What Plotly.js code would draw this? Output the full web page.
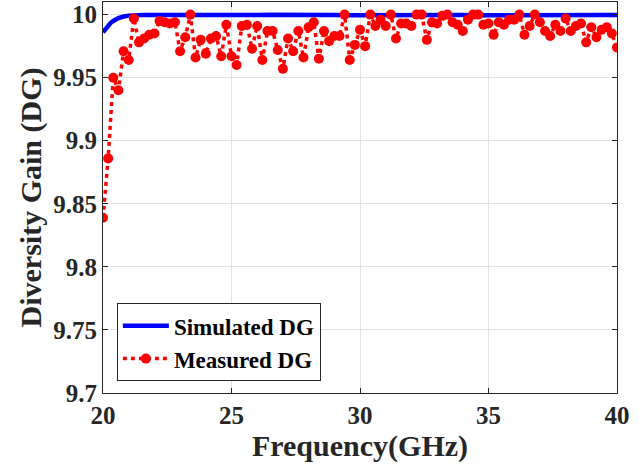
<!DOCTYPE html>
<html>
<head>
<meta charset="utf-8">
<script src="https://cdn.plot.ly/plotly-3.0.1.min.js"></script>
<style>html,body{margin:0;padding:0;background:#fff}#chart{width:639px;height:473px}</style>
</head>
<body>
<div id="chart"></div>
<script>
// Simulated DG
const simFreq = [20.0, 20.1, 20.2, 20.3, 20.4, 20.5, 20.6, 20.8, 21.0, 21.5, 22.0, 22.5, 23.0, 23.5, 24.0, 24.5, 25.0, 25.5, 26.0, 26.5, 27.0, 27.5, 28.0, 28.5, 29.0, 29.5, 30.0, 30.5, 31.0, 31.5, 32.0, 32.5, 33.0, 33.5, 34.0, 34.5, 35.0, 35.5, 36.0, 36.5, 37.0, 37.5, 38.0, 38.5, 39.0, 39.5, 40.0];
const simDG = [9.986, 9.989, 9.9915, 9.9935, 9.995, 9.9962, 9.9972, 9.9985, 9.9992, 9.9996, 9.9995, 9.9997, 9.9996, 9.9998, 9.9995, 9.9996, 9.9997, 9.9995, 9.9996, 9.9998, 9.9996, 9.9995, 9.9996, 9.9997, 9.9996, 9.9995, 9.9996, 9.9997, 9.9996, 9.9995, 9.9997, 9.9996, 9.9995, 9.9996, 9.9997, 9.9995, 9.9996, 9.9996, 9.9997, 9.9995, 9.9996, 9.9996, 9.9997, 9.9995, 9.9996, 9.9996, 9.9996];

// Measured DG (0.2 GHz step, 20-40 GHz)
const measFreq = [20.0,20.2,20.4,20.6,20.8,21.0,21.2,21.4,21.6,21.8,22.0,22.2,22.4,22.6,22.8,23.0,23.2,23.4,23.6,23.8,24.0,24.2,24.4,24.6,24.8,25.0,25.2,25.4,25.6,25.8,26.0,26.2,26.4,26.6,26.8,27.0,27.2,27.4,27.6,27.8,28.0,28.2,28.4,28.6,28.8,29.0,29.2,29.4,29.6,29.8,30.0,30.2,30.4,30.6,30.8,31.0,31.2,31.4,31.6,31.8,32.0,32.2,32.4,32.6,32.8,33.0,33.2,33.4,33.6,33.8,34.0,34.2,34.4,34.6,34.8,35.0,35.2,35.4,35.6,35.8,36.0,36.2,36.4,36.6,36.8,37.0,37.2,37.4,37.6,37.8,38.0,38.2,38.4,38.6,38.8,39.0,39.2,39.4,39.6,39.8,40.0];
const measDG = [9.839, 9.886, 9.950, 9.940, 9.971, 9.964, 9.997, 9.978, 9.981, 9.984,
  9.985, 9.995, 9.994, 9.993, 9.994, 9.971, 9.982, 10.000, 9.966, 9.980,
  9.969, 9.981, 9.983, 9.967, 9.992, 9.967, 9.960, 9.991, 9.992, 9.973,
  9.991, 9.964, 9.987, 9.987, 9.972, 9.957, 9.981, 9.971, 9.987, 9.966,
  9.990, 9.994, 9.965, 9.987, 9.979, 9.983, 9.983, 10.000, 9.964, 9.976,
  9.988, 9.975, 10.000, 9.991, 9.996, 9.991, 10.000, 9.981, 9.993, 9.993,
  9.991, 10.000, 10.000, 9.980, 9.994, 9.993, 9.999, 10.000, 9.994, 9.992,
  9.987, 9.996, 10.000, 10.000, 9.992, 9.993, 9.984, 9.994, 9.992, 9.996,
  9.996, 10.000, 9.984, 9.991, 10.000, 9.994, 9.987, 9.983, 9.992, 9.987,
  9.997, 9.987, 9.991, 9.993, 9.978, 9.990, 9.982, 9.988, 9.990, 9.985,
  9.974];

const xTicks = [20, 25, 30, 35, 40];
const xTickText = ['20', '25', '30', '35', '40'];
const yTicks = [9.7, 9.75, 9.8, 9.85, 9.9, 9.95, 10];
const yTickText = ['9.7', '9.75', '9.8', '9.85', '9.9', '9.95', '10'];

const font = 'Liberation Serif, Times New Roman, serif';

const traces = [
  {
    x: simFreq, y: simDG, name: '<b>Simulated DG</b>', mode: 'lines',
    line: {color: '#0000ff', width: 4.5}
  },
  {
    x: measFreq, y: measDG, name: '<b>Measured DG</b>', mode: 'lines+markers',
    line: {color: '#ff0000', width: 3.5, dash: '4px,4px'},
    marker: {color: '#ff0000', size: 10, symbol: 'circle'}
  }
];

const axisCommon = {
  showline: true, mirror: 'ticks', linecolor: '#262626', linewidth: 1,
  ticks: 'inside', ticklen: 5, tickcolor: '#262626',
  showgrid: true, gridcolor: '#e3e3e3', gridwidth: 1, zeroline: false,
  tickfont: {family: font, size: 25, color: '#262626', weight: 'bold'}
};

const layout = {
  width: 639, height: 473,
  margin: {l: 103, r: 22, t: 2, b: 80},
  paper_bgcolor: '#ffffff', plot_bgcolor: '#ffffff',
  showlegend: true,
  legend: {
    x: 0.027, y: 0.03, xanchor: 'left', yanchor: 'bottom',
    bgcolor: '#ffffff', bordercolor: '#262626', borderwidth: 1,
    font: {family: font, size: 23, color: '#000000'},
    tracegroupgap: 0, itemwidth: 46
  },
  xaxis: Object.assign({}, axisCommon, {
    range: [20, 40], tickvals: xTicks, ticktext: xTickText,
    title: {text: '<b>Frequency(GHz)</b>', font: {family: font, size: 30, color: '#262626'}, standoff: 6}
  }),
  yaxis: Object.assign({}, axisCommon, {
    range: [9.7, 10.01], tickvals: yTicks, ticktext: yTickText,
    title: {text: '<b>Diversity Gain (DG)</b>', font: {family: font, size: 30, color: '#262626'}, standoff: 2}
  })
};

Plotly.newPlot('chart', traces, layout, {displayModeBar: false, staticPlot: true});
</script>
</body>
</html>
